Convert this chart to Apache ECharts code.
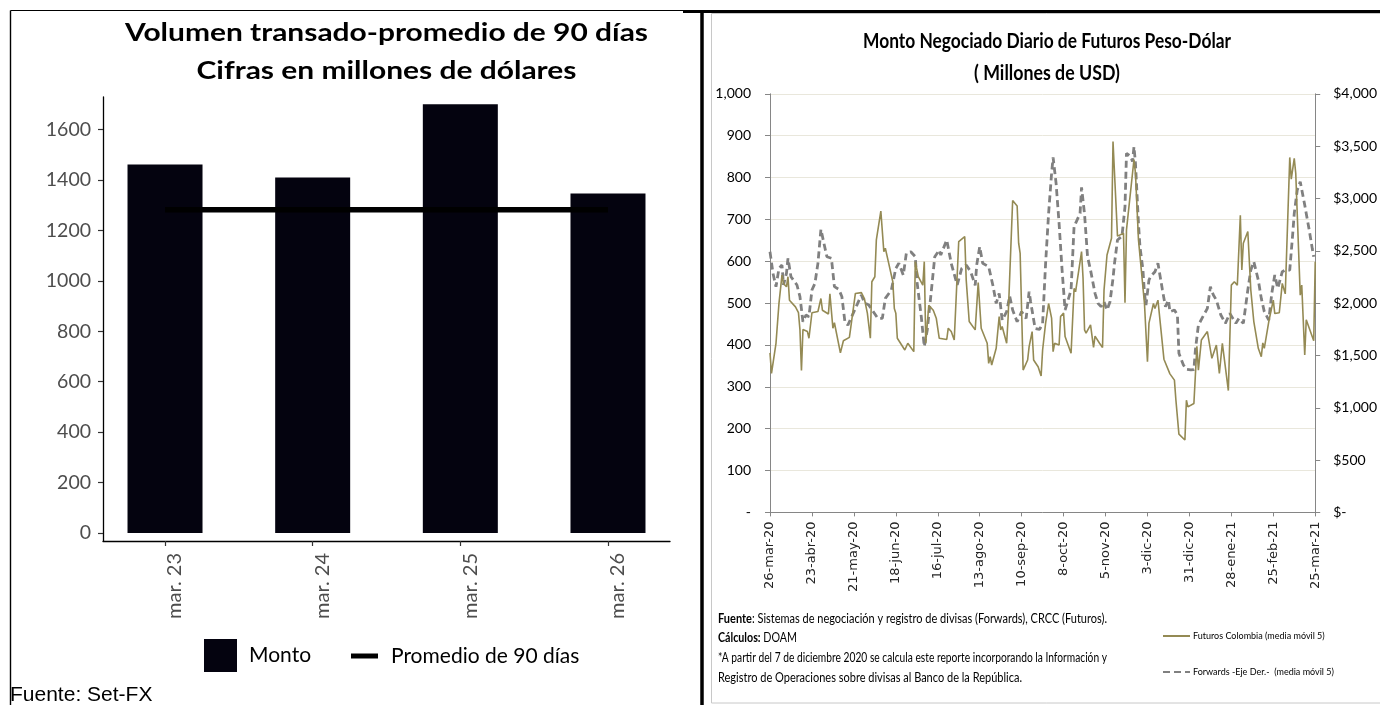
<!DOCTYPE html>
<html>
<head>
<meta charset="utf-8">
<script src="https://cdn.jsdelivr.net/npm/echarts@6/dist/echarts.min.js"></script>
<style>
  html, body { margin: 0; padding: 0; background: #ffffff; }
  #main { width: 1380px; height: 705px; }
</style>
</head>
<body>
<div id="main"></div>
<script>
// ---- Volumen transado, promedio de 90 días (millones de USD) ----
const barCategories = ['mar. 23', 'mar. 24', 'mar. 25', 'mar. 26'];
const montoValues = [1461, 1410, 1700, 1346];
const promedioValues = [1282, 1282, 1282, 1282];
const volumeTicks = [0, 200, 400, 600, 800, 1000, 1200, 1400, 1600];

// ---- Monto negociado diario (media móvil 5), días contados desde 26-mar-20 ----
const futDays = [0, 1, 4, 6, 8, 9, 11, 12, 13, 17, 19, 20, 21, 22, 25, 26, 28, 32, 34, 35,
  39, 40, 42, 43, 47, 49, 53, 54, 57, 61, 63, 65, 67, 68, 70, 71, 74, 76, 77, 79,
  82, 83, 84, 85, 90, 92, 96, 97, 98, 99, 102, 103, 104, 106, 109, 111, 113, 118, 119, 121,
  123, 126, 127, 130, 131, 133, 137, 139, 141, 145, 146, 147, 148, 151, 153, 154, 155, 158, 159, 160,
  162, 165, 166, 167, 169, 172, 173, 174, 175, 176, 179, 180, 181, 182, 184, 186, 188, 189, 190, 193,
  194, 196, 197, 201, 203, 204, 208, 209, 210, 211, 214, 216, 217, 220, 222, 223, 225, 228, 229, 232,
  233, 236, 237, 238, 243, 244, 246, 250, 252, 253, 256, 257, 259, 263, 264, 267, 270, 271, 273, 277,
  278, 279, 283, 285, 286, 288, 292, 295, 298, 300, 302, 306, 308, 310, 312, 314, 315, 316, 319, 321,
  323, 326, 328, 329, 330, 333, 336, 337, 340, 342, 344, 347, 348, 350, 351, 354, 355, 357, 358, 363,
  364];
const futValues = [381, 332, 404, 500, 567, 547, 539, 563, 507, 491, 477, 436, 339, 437, 432, 416, 477, 480, 511, 483,
  474, 522, 440, 453, 381, 410, 418, 444, 523, 525, 511, 476, 416, 551, 563, 651, 720, 623, 631, 599,
  551, 487, 476, 416, 388, 404, 384, 599, 595, 563, 543, 599, 404, 495, 483, 464, 416, 413, 440, 432,
  412, 647, 643, 659, 555, 456, 436, 549, 440, 404, 356, 372, 352, 392, 468, 436, 444, 404, 468, 472,
  745, 732, 643, 619, 340, 364, 396, 396, 432, 364, 348, 352, 326, 388, 452, 499, 464, 384, 404, 400,
  468, 476, 420, 380, 535, 527, 623, 559, 436, 428, 448, 394, 421, 404, 394, 531, 615, 655, 886, 660,
  659, 667, 501, 675, 843, 810, 651, 499, 360, 452, 499, 487, 507, 366, 364, 331, 316, 268, 187, 173,
  268, 252, 260, 397, 340, 412, 432, 368, 400, 332, 404, 291, 543, 551, 543, 710, 579, 643, 671, 531,
  456, 392, 372, 405, 392, 456, 507, 475, 477, 547, 522, 848, 796, 846, 810, 519, 543, 376, 460, 410,
  599];

const fwdDays = [0, 2, 4, 6, 8, 9, 11, 12, 14, 18, 20, 22, 24, 26, 28, 30, 32, 34, 36, 38,
  41, 43, 46, 48, 50, 52, 54, 58, 61, 63, 66, 69, 72, 75, 77, 81, 84, 86, 89, 91,
  94, 97, 98, 101, 103, 105, 108, 110, 113, 114, 118, 121, 125, 128, 131, 134, 137, 138, 140, 142,
  146, 149, 151, 153, 155, 158, 160, 162, 165, 168, 171, 173, 174, 177, 180, 182, 184, 186, 188, 189,
  191, 193, 195, 197, 198, 201, 203, 204, 207, 208, 210, 212, 214, 217, 219, 221, 223, 225, 227, 229,
  230, 232, 235, 237, 238, 241, 242, 243, 244, 246, 247, 249, 250, 251, 253, 254, 257, 259, 262, 264,
  266, 267, 270, 272, 273, 276, 278, 281, 283, 284, 286, 289, 292, 294, 296, 298, 301, 304, 307, 309,
  311, 313, 316, 319, 321, 323, 326, 328, 330, 333, 335, 337, 339, 342, 344, 347, 349, 350, 352, 354,
  357, 358, 360, 362, 363];
const fwdValues = [2491, 2284, 2157, 2332, 2364, 2173, 2284, 2428, 2252, 2173, 2061, 1822, 1886, 1870, 2125, 2189, 2380, 2705, 2571, 2443,
  2428, 2157, 2131, 2061, 1822, 1790, 1854, 1981, 2077, 2004, 1981, 1918, 1854, 1854, 2045, 2125, 2332, 2380, 2268, 2475,
  2491, 2443, 2220, 1870, 1584, 1743, 2157, 2443, 2507, 2459, 2603, 2380, 2173, 2332, 2364, 2300, 2170, 2364, 2539, 2380,
  2348, 2157, 1997, 2093, 1838, 1918, 2068, 1934, 1822, 1918, 1854, 2109, 2013, 1758, 1749, 1806, 2380, 2857, 3240, 3392,
  3144, 2762, 2316, 1934, 1950, 2125, 2730, 2762, 2857, 3106, 2850, 2443, 2316, 2093, 1997, 1966, 2013, 1934, 2013, 2236,
  2380, 2603, 2641, 2921, 3431, 3399, 3351, 3494, 3335, 2762, 2539, 2316, 2093, 1981, 2220, 2252, 2300, 2380, 2125, 1966,
  2029, 1918, 1934, 1886, 1520, 1408, 1367, 1361, 1364, 1552, 1790, 1870, 1950, 2157, 2077, 2029, 1886, 1806, 1902, 1854,
  1806, 1854, 1806, 2125, 2316, 2396, 2220, 2045, 1918, 1838, 2093, 2268, 2141, 2300, 2316, 2316, 2666, 2857, 3080, 3160,
  2937, 2857, 2698, 2523, 2443];

const monthAbbr = ['ene', 'feb', 'mar', 'abr', 'may', 'jun', 'jul', 'ago', 'sep', 'oct', 'nov', 'dic'];
const futName = 'Futuros Colombia (media móvil 5)';
const fwdName = 'Forwards -Eje Der.-  (media móvil 5)';

// Day offset -> "26-mar-20"
function dayLabel(v) {
  const d = new Date(2020, 2, 26 + Math.round(v));
  return d.getDate() + '-' + monthAbbr[d.getMonth()] + '-' + String(d.getFullYear()).slice(2);
}
function thousands(v) { return Math.round(v).toLocaleString('en-US'); }

// Text helpers: narrow Calibri-like lettering is approximated with Lato squeezed to a width
const mctx = document.createElement('canvas').getContext('2d');
function measure(str, size, bold) {
  mctx.font = (bold ? 'bold ' : 'normal ') + size + 'px Lato';
  return mctx.measureText(str).width;
}
function fittedText(x, y, parts, size, width, align) {
  let w = 0, str = '';
  parts.forEach(function (p) {
    w += measure(p.t, size, p.b);
    str += p.b ? '{b|' + p.t + '}' : p.t;
  });
  return {
    type: 'text', x: x, y: y, scaleX: width / w, silent: true,
    style: {
      text: str, fontSize: size, fontFamily: 'Lato', fill: '#000000',
      align: align, verticalAlign: 'middle',
      rich: { b: { fontSize: size, fontFamily: 'Lato', fontWeight: 'bold', fill: '#000000' } }
    }
  };
}
function rule(x1, y1, x2, y2, color, width) {
  return { type: 'line', silent: true, shape: { x1: x1, y1: y1, x2: x2, y2: y2 },
    style: { stroke: color, lineWidth: width } };
}

const chart = echarts.init(document.getElementById('main'));

const option = {
  animation: false,
  backgroundColor: '#ffffff',
  grid: [
    { left: 103, top: 97, width: 567, height: 444 },
    { left: 770, top: 93.8, width: 546, height: 418.6 }
  ],
  xAxis: [
    {
      type: 'value', gridIndex: 0, min: -0.42, max: 3.42,
      axisLine: { show: true, onZero: false, lineStyle: { color: '#000000', width: 1.3 } },
      axisTick: { show: true, customValues: [0, 1, 2, 3], length: 5, lineStyle: { color: '#333333', width: 1.2 } },
      axisLabel: {
        customValues: [0, 1, 2, 3], formatter: function (v) { return barCategories[v]; },
        rotate: 90, align: 'right', verticalAlign: 'top', margin: 12,
        fontSize: 20, fontFamily: 'Lato', color: '#4d4d4d'
      },
      splitLine: { show: false }
    },
    {
      type: 'value', gridIndex: 1, min: 0, max: 364, interval: 28,
      axisLine: { show: true, onZero: false, lineStyle: { color: '#868686', width: 1 } },
      axisTick: { show: true, length: 4, lineStyle: { color: '#868686' } },
      axisLabel: {
        formatter: dayLabel, rotate: 90, margin: 9,
        fontSize: 13, fontFamily: 'DejaVu Sans', color: '#262626'
      },
      splitLine: { show: false }
    }
  ],
  yAxis: [
    {
      type: 'value', gridIndex: 0, min: -32, max: 1729,
      axisLine: { show: true, onZero: false, lineStyle: { color: '#000000', width: 1.3 } },
      axisTick: { show: true, customValues: volumeTicks, length: 5, lineStyle: { color: '#333333', width: 1.2 } },
      axisLabel: {
        customValues: volumeTicks, formatter: function (v) { return String(v); },
        margin: 12, fontSize: 19.5, fontFamily: 'Lato', color: '#4d4d4d'
      },
      splitLine: { show: false }
    },
    {
      type: 'value', gridIndex: 1, position: 'left', min: 0, max: 1000, interval: 100,
      axisLine: { show: true, onZero: false, lineStyle: { color: '#868686', width: 1 } },
      axisTick: { show: true, length: 5, lineStyle: { color: '#868686' } },
      axisLabel: {
        formatter: function (v) { return v === 0 ? '-' : thousands(v); },
        margin: 19, fontSize: 14, fontFamily: 'Lato', color: '#000000'
      },
      splitLine: { show: true, lineStyle: { color: '#e9e7dc', width: 1 } }
    },
    {
      type: 'value', gridIndex: 1, position: 'right', min: 0, max: 4000, interval: 500,
      axisLine: { show: true, onZero: false, lineStyle: { color: '#868686', width: 1 } },
      axisTick: { show: true, length: 5, lineStyle: { color: '#868686' } },
      axisLabel: {
        formatter: function (v) { return v === 0 ? '$-' : '$' + thousands(v); },
        margin: 18, fontSize: 14, fontFamily: 'Lato', color: '#000000'
      },
      splitLine: { show: false }
    }
  ],
  legend: [
    {
      left: 204, top: 639, padding: 0, itemWidth: 33, itemHeight: 33,
      data: [{ name: 'Monto', icon: 'rect' }],
      textStyle: { fontSize: 21, fontFamily: 'Lato', color: '#000000', lineHeight: 24, padding: [0, 0, 0, 7] }
    },
    {
      left: 351, top: 644, padding: 0, itemWidth: 27, itemHeight: 5,
      data: [{ name: 'Promedio de 90 días', icon: 'rect' }],
      textStyle: { fontSize: 21, fontFamily: 'Lato', color: '#000000', lineHeight: 24, padding: [0, 0, 0, 8] }
    },
    {
      orient: 'vertical', left: 1162, top: 630, padding: 0,
      itemWidth: 27, itemHeight: 12, itemGap: 24,
      data: [futName, fwdName],
      itemStyle: { color: 'rgba(0,0,0,0)', borderWidth: 0, opacity: 0 },
      textStyle: { fontSize: 9, fontFamily: 'Lato', color: '#000000', lineHeight: 12, padding: [0, 0, 0, -2] }
    }
  ],
  series: [
    {
      name: 'Monto', type: 'bar', xAxisIndex: 0, yAxisIndex: 0, barWidth: 75,
      data: montoValues.map(function (v, i) { return [i, v]; }),
      itemStyle: { color: '#04030f' }
    },
    {
      name: 'Promedio de 90 días', type: 'line', xAxisIndex: 0, yAxisIndex: 0,
      data: promedioValues.map(function (v, i) { return [i, v]; }),
      symbol: 'none', z: 3,
      lineStyle: { color: '#000000', width: 5.5, cap: 'butt' },
      itemStyle: { color: '#000000' }
    },
    {
      name: futName, type: 'line', xAxisIndex: 1, yAxisIndex: 1,
      data: futDays.map(function (d, i) { return [d, futValues[i]]; }),
      symbol: 'none', z: 3,
      lineStyle: { color: '#948a54', width: 1.6 },
      itemStyle: { color: '#948a54' }
    },
    {
      name: fwdName, type: 'line', xAxisIndex: 1, yAxisIndex: 2,
      data: fwdDays.map(function (d, i) { return [d, fwdValues[i]]; }),
      symbol: 'none', z: 2,
      lineStyle: { color: '#808080', width: 2.8, type: [7, 4] },
      itemStyle: { color: '#808080' }
    }
  ],
  graphic: [
    // panel frames
    rule(10.5, 10.5, 683, 10.5, '#000000', 1.2),
    rule(10.5, 10.5, 10.5, 705, '#000000', 1.4),
    { type: 'rect', silent: true, shape: { x: 711.5, y: 13.5, width: 700, height: 689.5 },
      style: { fill: 'none', stroke: '#c8c8c8', lineWidth: 1 } },
    rule(683, 11.5, 1380, 11.5, '#000000', 3),
    rule(702, 10, 702, 705, '#000000', 3.5),
    // titles
    fittedText(386.5, 33, [{ t: 'Volumen transado-promedio de 90 días', b: true }], 24, 523, 'center'),
    fittedText(386.5, 71.5, [{ t: 'Cifras en millones de dólares', b: true }], 24, 380, 'center'),
    fittedText(1047, 41.5, [{ t: 'Monto Negociado Diario de Futuros Peso-Dólar', b: true }], 21, 368, 'center'),
    fittedText(1047, 73.5, [{ t: '( Millones de USD)', b: true }], 21, 146, 'center'),
    // notes
    fittedText(718, 619, [{ t: 'Fuente', b: true }, { t: ': Sistemas de negociación y registro de divisas (Forwards), CRCC (Futuros).' }], 13.5, 389, 'left'),
    fittedText(718, 637.5, [{ t: 'Cálculos:', b: true }, { t: ' DOAM' }], 13.5, 79, 'left'),
    fittedText(718, 658, [{ t: '*A partir del 7 de diciembre 2020 se calcula este reporte incorporando la Información y' }], 13.5, 389, 'left'),
    fittedText(718, 678, [{ t: 'Registro de Operaciones sobre divisas al Banco de la República.' }], 13.5, 304, 'left'),
    {
      type: 'text', x: 10, y: 695.5, silent: true,
      style: { text: 'Fuente: Set-FX', fontSize: 21, fontFamily: "'Liberation Sans', Arial", fill: '#000000',
        align: 'left', verticalAlign: 'middle' }
    }
  ]
};

chart.setOption(option);
</script>
</body>
</html>
